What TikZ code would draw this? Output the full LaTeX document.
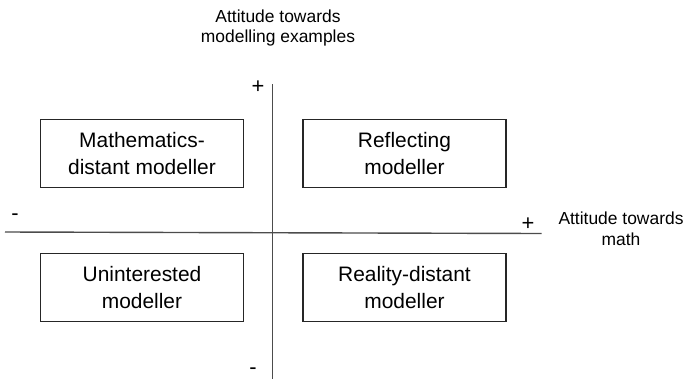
\documentclass[tikz,border=0pt]{standalone}
\usepackage{fontspec}
\setmainfont{Liberation Sans}
\begin{document}
\begin{tikzpicture}[x=1bp,y=-1bp,
  quad/.style={draw=black!85, line width=1.2bp, minimum width=203bp, minimum height=68bp,
    inner sep=0pt, align=center, font=\fontsize{21}{26.5}\selectfont},
  axis/.style={draw=black!70, line width=1.4bp},
  lbl/.style={align=center, inner sep=0pt, font=\fontsize{17.5}{20.7}\selectfont},
  sign/.style={inner sep=0pt, font=\fontsize{22}{24}\selectfont}]
\useasboundingbox (0,0) rectangle (687,379);
% axes
\coordinate (vt) at (272.7,84);
\coordinate (vb) at (272.7,379);
\coordinate (hl) at (5,232);
\coordinate (hr) at (541.5,233.5);
\draw[axis] (vt) -- (vb);
\draw[axis] (hl) -- (hr);
% boxes
\node[quad] (tl) at (142,153.5) {Mathematics-\\distant modeller};
\node[quad] (tr) at (404.5,153.5) {Reflecting\\modeller};
\node[quad] (bl) at (142,287.5) {Uninterested\\modeller};
\node[quad] (br) at (404.5,287.5) {Reality-distant\\modeller};
% axis labels
\node[lbl] (ylab) at (278,28) {Attitude towards\\modelling examples};
\node[lbl] (xlab) at (621,229) {Attitude towards\\math};
% signs
\node[sign] (yplus) at (258,87) {+};
\node[sign] (yminus) at (253,371) {-};
\node[sign] (xminus) at (15,217) {-};
\node[sign] (xplus) at (528,224) {+};
\end{tikzpicture}
\end{document}
